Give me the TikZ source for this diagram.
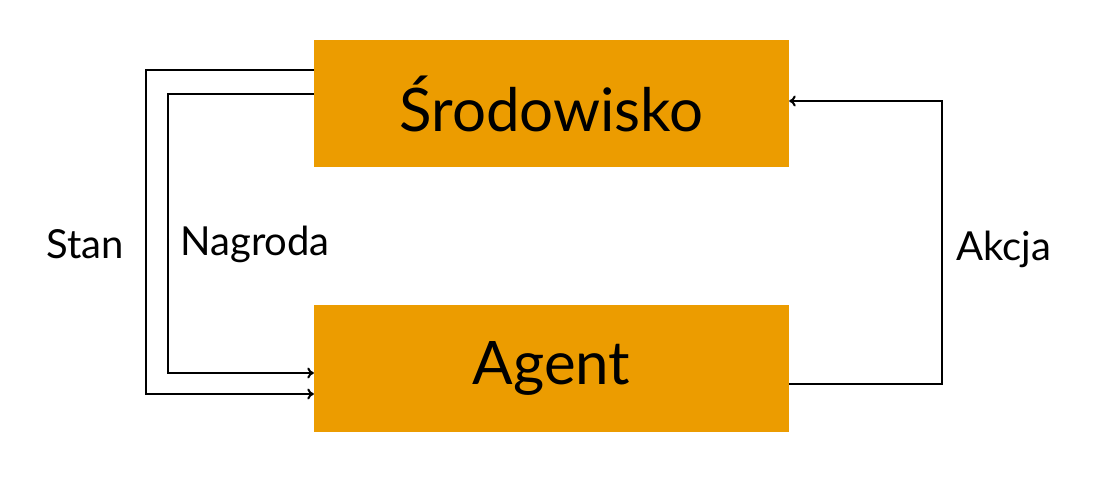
\documentclass[tikz,border=0pt]{standalone}
\usepackage{fontspec}
\setmainfont{Lato}
\usetikzlibrary{arrows.meta}
\definecolor{boxorange}{RGB}{236,156,0}
\begin{document}
\begin{tikzpicture}[x=1pt,y=-1pt,
  blk/.style={fill=boxorange,draw=none,minimum width=475pt,minimum height=127pt,inner sep=0pt,font=\fontsize{60}{66}\selectfont},
  conn/.style={line width=2pt,-{To[length=6.5pt,width=11pt]}},
  lbl/.style={font=\fontsize{40}{46}\selectfont,inner sep=0pt}]
\useasboundingbox (0,0) rectangle (1100,480);
\node[blk] (env) at (551.5,103.5) {Środowisko};
\node[blk] (agent) at (551.5,368.5) {Agent};
\coordinate (s1) at (146,70);
\coordinate (n1) at (168,94);
\coordinate (a1) at (942,384);
\draw[conn] (env.west |- s1) -- (s1) |- ([yshift=-25.5pt]agent.west);
\draw[conn] (env.west |- n1) -- (n1) |- ([yshift=-4.5pt]agent.west);
\draw[conn] (agent.east |- a1) -- (a1) |- ([yshift=2.5pt]env.east);
\node[lbl] (stan) at (85,244) {Stan};
\node[lbl] (nagroda) at (255,244) {Nagroda};
\node[lbl] (akcja) at (1004,249) {Akcja};
\end{tikzpicture}
\end{document}
